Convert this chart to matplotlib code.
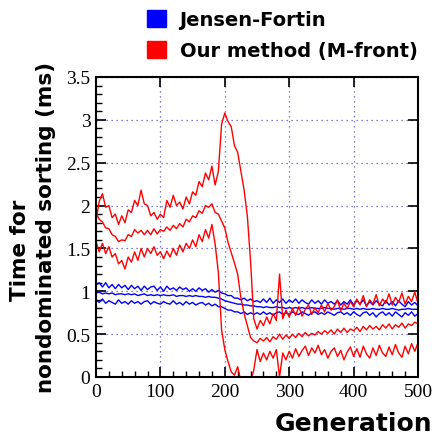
import matplotlib
matplotlib.use('Agg')
import matplotlib.pyplot as plt
from matplotlib.patches import Patch
from matplotlib.ticker import MultipleLocator, FuncFormatter
import numpy as np

# generations, sampled every 5
gen = np.arange(0, 501, 5)

# Jensen-Fortin : upper / mean / lower
jf_hi = [1.07,1.10,1.05,1.10,1.04,1.08,1.03,1.08,1.04,1.07,
         1.02,1.07,1.03,1.06,1.01,1.06,1.02,1.05,1.06,1.01,
         1.05,1.00,1.06,1.02,1.04,1.01,1.05,1.02,1.04,1.00,
         1.03,1.00,1.04,1.01,1.03,0.99,1.02,0.99,1.01,0.98,
         0.97,0.95,0.95,0.92,0.92,0.90,0.92,0.89,0.91,0.88,
         0.89,0.87,0.91,0.87,0.92,0.86,0.90,0.87,0.91,0.86,
         0.90,0.87,0.91,0.86,0.90,0.87,0.85,0.90,0.86,0.89,
         0.85,0.90,0.86,0.88,0.85,0.89,0.84,0.88,0.85,0.90,
         0.84,0.89,0.85,0.90,0.83,0.88,0.84,0.89,0.85,0.83,
         0.89,0.84,0.88,0.83,0.89,0.85,0.82,0.88,0.84,0.87,
         0.83]
jf_mid = [0.98,0.99,0.97,0.98,0.97,0.98,0.96,0.97,0.97,0.96,
          0.97,0.96,0.97,0.95,0.96,0.97,0.95,0.96,0.95,0.96,
          0.95,0.96,0.95,0.95,0.96,0.94,0.95,0.95,0.94,0.95,
          0.94,0.95,0.94,0.94,0.93,0.94,0.93,0.93,0.92,0.91,
          0.89,0.88,0.87,0.86,0.85,0.85,0.84,0.84,0.83,0.83,
          0.82,0.82,0.81,0.82,0.81,0.81,0.82,0.81,0.81,0.80,
          0.81,0.80,0.81,0.80,0.81,0.80,0.80,0.81,0.80,0.80,
          0.80,0.81,0.80,0.80,0.79,0.80,0.80,0.79,0.80,0.80,
          0.79,0.80,0.79,0.80,0.79,0.79,0.80,0.79,0.79,0.80,
          0.79,0.79,0.80,0.79,0.78,0.79,0.79,0.80,0.79,0.79,
          0.79]
jf_lo = [0.90,0.87,0.91,0.86,0.89,0.87,0.85,0.90,0.86,0.88,
         0.85,0.89,0.86,0.88,0.85,0.88,0.89,0.85,0.88,0.86,
         0.85,0.88,0.86,0.85,0.89,0.85,0.87,0.84,0.88,0.85,
         0.87,0.84,0.86,0.87,0.84,0.86,0.83,0.85,0.82,0.82,
         0.80,0.78,0.78,0.76,0.76,0.74,0.76,0.73,0.75,0.73,
         0.75,0.73,0.76,0.73,0.75,0.72,0.75,0.76,0.73,0.75,
         0.73,0.76,0.74,0.73,0.76,0.74,0.72,0.75,0.76,0.73,
         0.75,0.73,0.76,0.74,0.72,0.75,0.76,0.73,0.75,0.72,
         0.76,0.73,0.71,0.75,0.76,0.72,0.75,0.70,0.74,0.76,
         0.72,0.75,0.71,0.76,0.73,0.70,0.75,0.72,0.76,0.71,
         0.74]

# Our method (M-front) : upper / mean / lower
mf_hi = [1.82,2.05,2.14,1.98,2.00,1.86,1.90,1.78,1.88,1.80,
         1.95,1.92,2.06,2.00,2.18,2.02,2.00,1.88,1.92,1.84,
         1.90,1.86,2.06,1.98,2.12,2.00,2.04,1.96,2.10,2.02,
         2.16,2.12,2.28,2.22,2.38,2.30,2.46,2.24,2.40,2.95,
         3.08,2.98,2.92,2.70,2.62,2.40,2.18,1.88,1.35,0.68,
         0.56,0.66,0.60,0.70,0.62,0.74,0.66,1.20,0.68,0.78,
         0.70,0.80,0.72,0.82,0.71,0.79,0.84,0.73,0.81,0.75,
         0.84,0.76,0.86,0.78,0.82,0.90,0.77,0.86,0.80,0.88,
         0.82,0.91,0.84,0.95,0.82,0.90,0.85,0.96,0.83,0.91,
         0.86,0.97,0.84,0.93,0.87,0.98,0.85,0.94,0.88,0.99,
         0.86]
mf_mid = [1.92,1.84,1.81,1.74,1.73,1.66,1.64,1.58,1.60,1.59,
          1.66,1.64,1.72,1.68,1.71,1.66,1.71,1.66,1.73,1.67,
          1.72,1.70,1.75,1.71,1.77,1.73,1.79,1.75,1.84,1.81,
          1.88,1.86,1.94,1.91,2.00,1.98,2.02,1.92,1.90,1.82,
          1.74,1.57,1.45,1.33,1.20,0.92,0.74,0.60,0.46,0.42,
          0.40,0.45,0.42,0.46,0.41,0.47,0.44,0.50,0.44,0.49,
          0.45,0.50,0.46,0.51,0.47,0.52,0.48,0.51,0.49,0.53,
          0.50,0.54,0.51,0.55,0.50,0.56,0.52,0.57,0.52,0.56,
          0.54,0.58,0.53,0.59,0.55,0.60,0.56,0.59,0.55,0.61,
          0.57,0.62,0.56,0.61,0.58,0.63,0.57,0.62,0.60,0.64,
          0.62]
mf_lo = [1.58,1.46,1.56,1.44,1.52,1.40,1.44,1.32,1.36,1.26,
         1.40,1.34,1.46,1.36,1.50,1.40,1.50,1.44,1.52,1.42,
         1.46,1.38,1.47,1.40,1.50,1.42,1.54,1.46,1.56,1.50,
         1.60,1.52,1.66,1.58,1.72,1.62,1.78,1.55,1.22,0.55,
         0.32,0.18,0.06,0.02,0.12,-0.05,-0.05,-0.05,-0.05,0.08,
         0.32,0.18,0.28,0.20,0.30,0.22,0.32,0.00,0.28,0.20,
         0.30,0.22,0.33,0.24,0.31,0.36,0.25,0.34,0.28,0.37,
         0.26,0.32,0.22,0.30,0.34,0.24,0.31,0.20,0.29,0.35,
         0.24,0.33,0.23,0.36,0.27,0.22,0.34,0.25,0.37,0.28,
         0.24,0.35,0.26,0.38,0.28,0.23,0.36,0.27,0.39,0.30,
         0.40]

fig = plt.figure(figsize=(4.38, 4.39), dpi=100)
ax = fig.add_axes([96/438, 1-378/439, 322/438, 300/439])

for s in (jf_hi, jf_mid, jf_lo):
    ax.plot(gen, s, color='#0000ff', lw=1.0)
for s in (mf_hi, mf_mid, mf_lo):
    ax.plot(gen, s, color='#ff0000', lw=1.0)

ax.set_xlim(0, 500)
ax.set_ylim(0, 3.5)
ax.xaxis.set_major_locator(MultipleLocator(100))
ax.xaxis.set_minor_locator(MultipleLocator(20))
ax.yaxis.set_major_locator(MultipleLocator(0.5))
ax.yaxis.set_minor_locator(MultipleLocator(0.1))
ax.yaxis.set_major_formatter(FuncFormatter(lambda v, p: '%g' % v))
ax.tick_params(which='major', direction='in', length=7, width=1.2,
               top=True, right=True, pad=4)
ax.tick_params(which='minor', direction='in', length=4.5, width=1.0,
               top=False, right=False)
for lab in ax.get_xticklabels() + ax.get_yticklabels():
    lab.set_fontfamily('Liberation Serif')
    lab.set_fontsize(14)
for sp in ax.spines.values():
    sp.set_linewidth(1.5)
ax.grid(True, which='major', color='#5555bb', linestyle=(0, (1, 3)), linewidth=0.9)

fig.text(432/438, 1-424/439, 'Generation', ha='right', va='center',
         fontsize=18, fontweight='bold', family='DejaVu Sans')
fig.text(20/438, 1-250/439, 'Time for', rotation=90, ha='center', va='center',
         fontsize=15.5, fontweight='bold', family='DejaVu Sans')
fig.text(46/438, 1-227/439, 'nondominated sorting (ms)', rotation=90,
         ha='center', va='center', fontsize=15.5, fontweight='bold',
         family='DejaVu Sans')

handles = [Patch(facecolor='#0000ff', edgecolor='#0000ff'),
           Patch(facecolor='#ff0000', edgecolor='#ff0000')]
fig.legend(handles, ['Jensen-Fortin', 'Our method (M-front)'],
           loc='upper left', bbox_to_anchor=(131/438, 1 + 5/439), frameon=False,
           prop={'family': 'DejaVu Sans', 'weight': 'bold', 'size': 14},
           handlelength=1.0, handleheight=1.0, handletextpad=0.7,
           labelspacing=0.6, borderpad=0.3)

fig.savefig('out.png', dpi=100)
